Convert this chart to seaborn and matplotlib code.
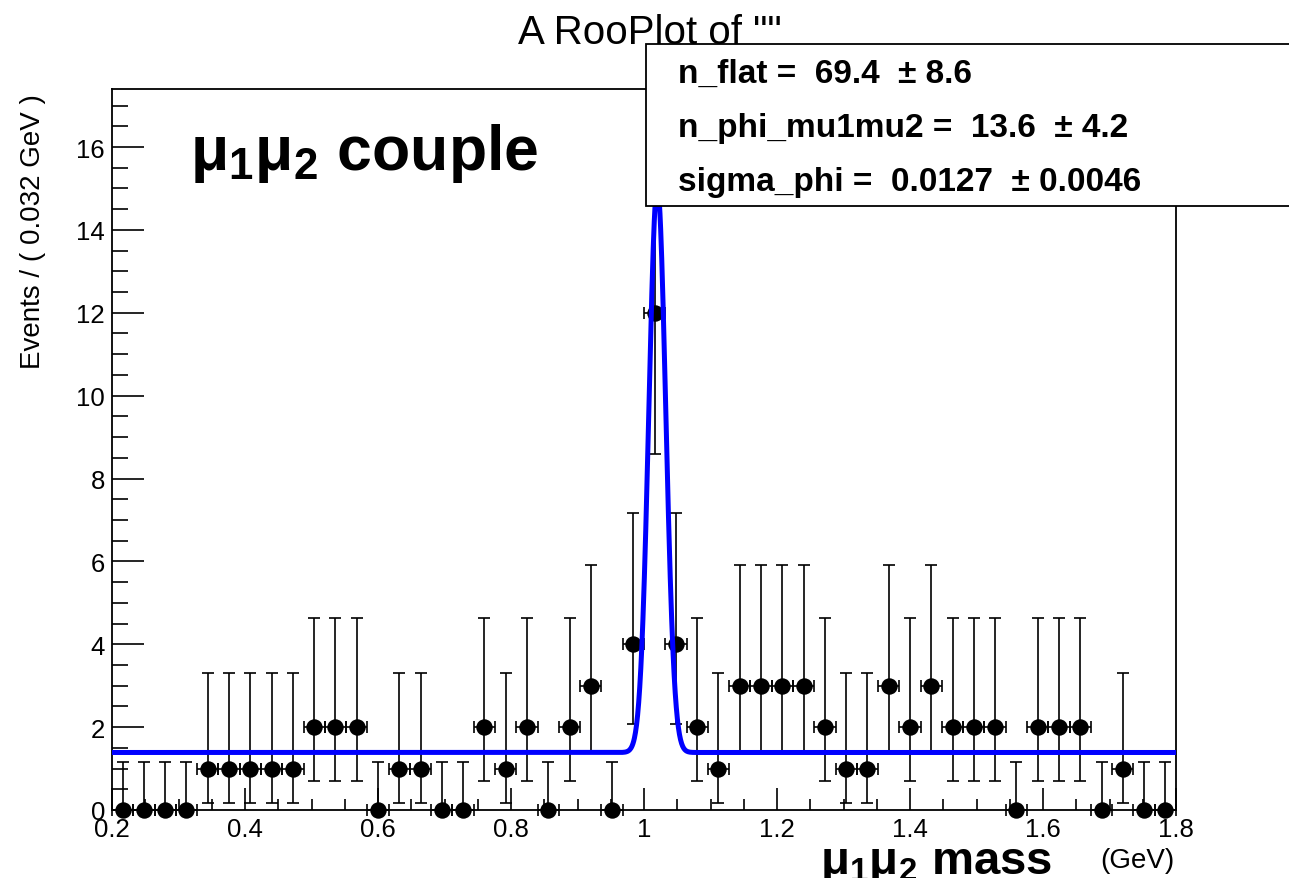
import numpy as np
import pandas as pd
import matplotlib
matplotlib.use("Agg")
import matplotlib.pyplot as plt
from matplotlib.patches import Rectangle
from matplotlib.ticker import MultipleLocator, FuncFormatter
import seaborn as sns

# ---------------- data ----------------
x_min, x_max, n_bins = 0.2, 1.8, 50
bin_width = 0.032
bin_centers = [0.216 + 0.032 * i for i in range(50)]
counts = [0, 0, 0, 0, 1, 1, 1, 1, 1, 2,
          2, 2, 0, 1, 1, 0, 0, 2, 1, 2,
          0, 2, 3, 0, 4, 12, 4, 2, 1, 3,
          3, 3, 3, 2, 1, 1, 3, 2, 3, 2,
          2, 2, 0, 2, 2, 2, 0, 1, 0, 0]
# Poisson (Garwood 68%) interval bounds by count
poisson_low = {0: 0.0, 1: 0.173, 2: 0.708, 3: 1.367, 4: 2.086, 12: 8.59}
poisson_high = {0: 1.148, 1: 3.300, 2: 4.638, 3: 5.918, 4: 7.163, 12: 16.61}

# fit parameters
n_flat = 69.4
n_phi = 13.6
sigma_phi = 0.0127
mean_phi = 1.020
param_lines = ["n_flat =  69.4  \u00b1 8.6",
               "n_phi_mu1mu2 =  13.6  \u00b1 4.2",
               "sigma_phi =  0.0127  \u00b1 0.0046"]

# ---------------- style ----------------
sns.set_theme(style="ticks")
plt.rcParams["font.family"] = ["Liberation Sans", "DejaVu Sans"]
plt.rcParams["mathtext.default"] = "regular"
plt.rcParams["text.color"] = "black"
plt.rcParams["axes.labelcolor"] = "black"
plt.rcParams["xtick.color"] = "black"
plt.rcParams["ytick.color"] = "black"

W, H = 1289, 879
fig = plt.figure(figsize=(W / 100, H / 100), dpi=100)
fig.patch.set_facecolor("white")
ax = fig.add_axes([112 / W, 1 - 811 / H, (1176 - 112) / W, (811 - 90) / H])
ax.set_facecolor("white")

df = pd.DataFrame({"x": bin_centers, "y": counts})
df["lo"] = [c - poisson_low[c] for c in counts]
df["hi"] = [poisson_high[c] - c for c in counts]

# error bars
ax.errorbar(df["x"], df["y"], yerr=[df["lo"], df["hi"]], xerr=bin_width / 2,
            fmt="none", ecolor="black", elinewidth=1.2, capsize=4,
            capthick=1.2, zorder=2, clip_on=False)
# markers
sns.scatterplot(data=df, x="x", y="y", ax=ax, color="black", s=140,
                edgecolor="black", linewidth=0, zorder=3, clip_on=False,
                legend=False)

# fit curve: flat + gaussian (per bin)
xs = np.linspace(x_min, x_max, 3001)
ys = n_flat / n_bins + n_phi * bin_width / (np.sqrt(2 * np.pi) * sigma_phi) * \
    np.exp(-0.5 * ((xs - mean_phi) / sigma_phi) ** 2)
sns.lineplot(x=xs, y=ys, ax=ax, color="#0000ff", linewidth=3.6, zorder=4,
             estimator=None, sort=False)

ax.set_xlim(x_min, x_max)
ax.set_ylim(0, 17.4)
ax.set_xlabel("")
ax.set_ylabel("")

ax.xaxis.set_major_locator(MultipleLocator(0.2))
ax.xaxis.set_minor_locator(MultipleLocator(0.05))
ax.yaxis.set_major_locator(MultipleLocator(2))
ax.yaxis.set_minor_locator(MultipleLocator(0.5))
fmt = FuncFormatter(lambda v, p: "%g" % round(v, 3))
ax.xaxis.set_major_formatter(fmt)
ax.yaxis.set_major_formatter(fmt)

ax.tick_params(axis="both", which="both", direction="in", colors="black",
               labelcolor="black", top=False, right=False, width=1.2)
ax.tick_params(axis="x", which="major", length=15.5, labelsize=18.5, pad=5)
ax.tick_params(axis="x", which="minor", length=7.8)
ax.tick_params(axis="y", which="major", length=23, labelsize=18.5, pad=5)
ax.tick_params(axis="y", which="minor", length=11.5)
for s in ax.spines.values():
    s.set_visible(True)
    s.set_color("black")
    s.set_linewidth(1.3)

# texts
fig.text(650 / W, 1 - 44 / H, 'A RooPlot of ""', ha="center", va="baseline",
         fontsize=29, zorder=1)
fig.text(33 / W, 1 - 94 / H, "Events / ( 0.032 GeV )", rotation=90,
         ha="center", va="top", fontsize=20)
fig.text(190 / W, 1 - 170 / H, "\u03bc$_1$\u03bc$_2$ couple", ha="left",
         va="baseline", fontsize=45, fontweight="bold")
fig.text(820 / W, 1 - 874 / H, "\u03bc$_1$\u03bc$_2$ mass", ha="left",
         va="baseline", fontsize=34, fontweight="bold")
fig.text(1175 / W, 1 - 868 / H, "(GeV)", ha="right", va="baseline",
         fontsize=20)

# parameter box
box = Rectangle((646 / W, 1 - 207 / H), 0.6, 162 / H, transform=fig.transFigure,
                facecolor="white", edgecolor="black", linewidth=1.3, zorder=5,
                clip_on=False)
fig.add_artist(box)
for i, line in enumerate(param_lines):
    fig.text(678 / W, 1 - (83 + 54 * i) / H, line, ha="left", va="baseline",
             fontsize=24, fontweight="bold", zorder=6)

fig.savefig("out.png", dpi=100, facecolor="white")
